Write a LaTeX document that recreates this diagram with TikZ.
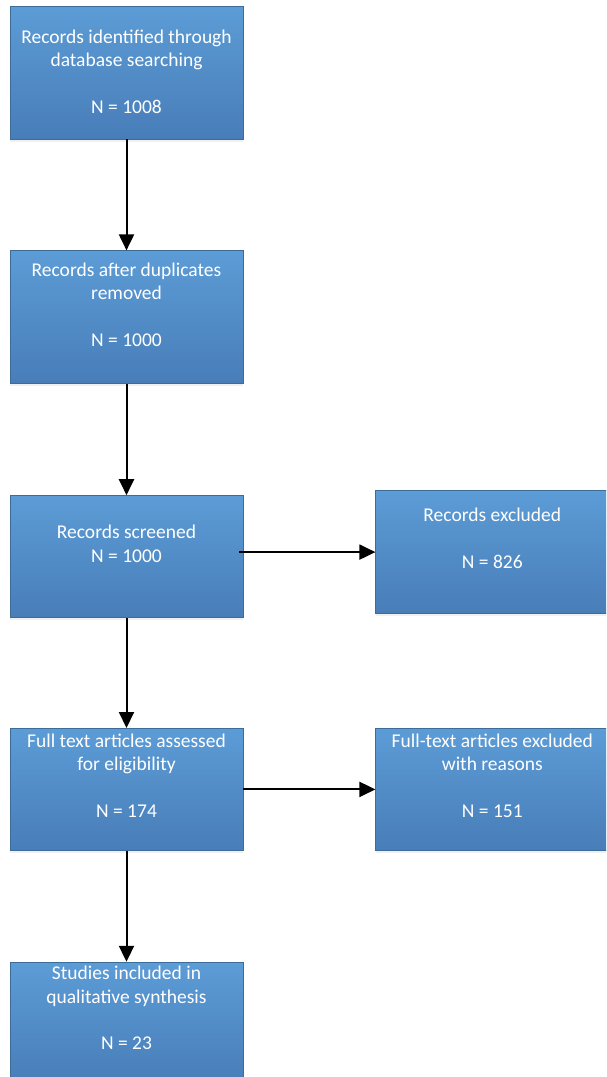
\documentclass[tikz,border=0pt]{standalone}
\usepackage{fontspec}
\setmainfont{Carlito}
\usetikzlibrary{arrows.meta, positioning, shadows}

\definecolor{boxtop}{RGB}{92,156,214}
\definecolor{boxbottom}{RGB}{72,125,184}
\definecolor{boxline}{RGB}{62,108,152}

\begin{document}
\begin{tikzpicture}[x=1pt, y=-1pt,
        stage/.style={rectangle, draw=boxline, line width=0.8pt, top color=boxtop, bottom color=boxbottom, minimum width=233pt, minimum height=122pt, inner sep=0pt, drop shadow={opacity=0.12, shadow xshift=0pt, shadow yshift=-2.5pt}},
        txt/.style={align=center, text=white, inner sep=0pt, anchor=base, font=\fontsize{19.5}{23.4}\selectfont},
        arrow/.style={-{Triangle[length=16pt, width=15pt]}, line width=2pt, shorten >=0pt}
    ]
    \useasboundingbox (0,0) rectangle (606,1077);
    \clip (0,0) rectangle (606,1077);
    % Identification
    \node[stage, minimum height=133pt] (ident) at (126.5,72.5) {};
    \node[txt] (t-ident) at ([yshift=-108pt]ident.north) {Records identified through\\database searching\\[23.4pt]N = 1008};
    % Duplicates removed
    \node[stage, minimum height=133pt, below=111pt of ident] (dupl) {};
    \node[txt] (t-dupl) at ([yshift=-96pt]dupl.north) {Records after duplicates\\removed\\[23.4pt]N = 1000};
    % Screened
    \node[stage, below=111pt of dupl] (screen) {};
    \node[txt] (t-screen) at ([yshift=-67pt]screen.north) {Records screened\\N = 1000};
    % Excluded
    \node[stage, minimum width=233pt, minimum height=123pt, right=132pt of screen, yshift=4.5pt] (excl) {};
    \node[txt] (t-excl) at ([yshift=-78pt]excl.north) {Records excluded\\[23.4pt]N = 826};
    % Full text
    \node[stage, below=110pt of screen] (full) {};
    \node[txt] (t-full) at ([yshift=-89.7pt]full.north) {Full text articles assessed\\for eligibility\\[23.4pt]N = 174};
    % Full text excluded
    \node[stage, right=132pt of full] (fullexcl) {};
    \node[txt] (t-fullexcl) at ([yshift=-89.7pt]fullexcl.north) {Full-text articles excluded\\with reasons\\[23.4pt]N = 151};
    % Included
    \node[stage, below=111pt of full] (incl) {};
    \node[txt] (t-incl) at ([yshift=-88pt]incl.north) {Studies included in\\qualitative synthesis\\[23.4pt]N = 23};
    % Connections
    \draw[arrow] (ident) -- (dupl);
    \draw[arrow] (dupl) -- (screen);
    \draw[arrow] (screen) -- (full);
    \draw[arrow] (full) -- (incl);
    \draw[arrow] ([xshift=-4pt]screen.east |- excl.west) -- (excl.west);
    \draw[arrow] (full.east) -- (fullexcl.west);
\end{tikzpicture}
\end{document}
